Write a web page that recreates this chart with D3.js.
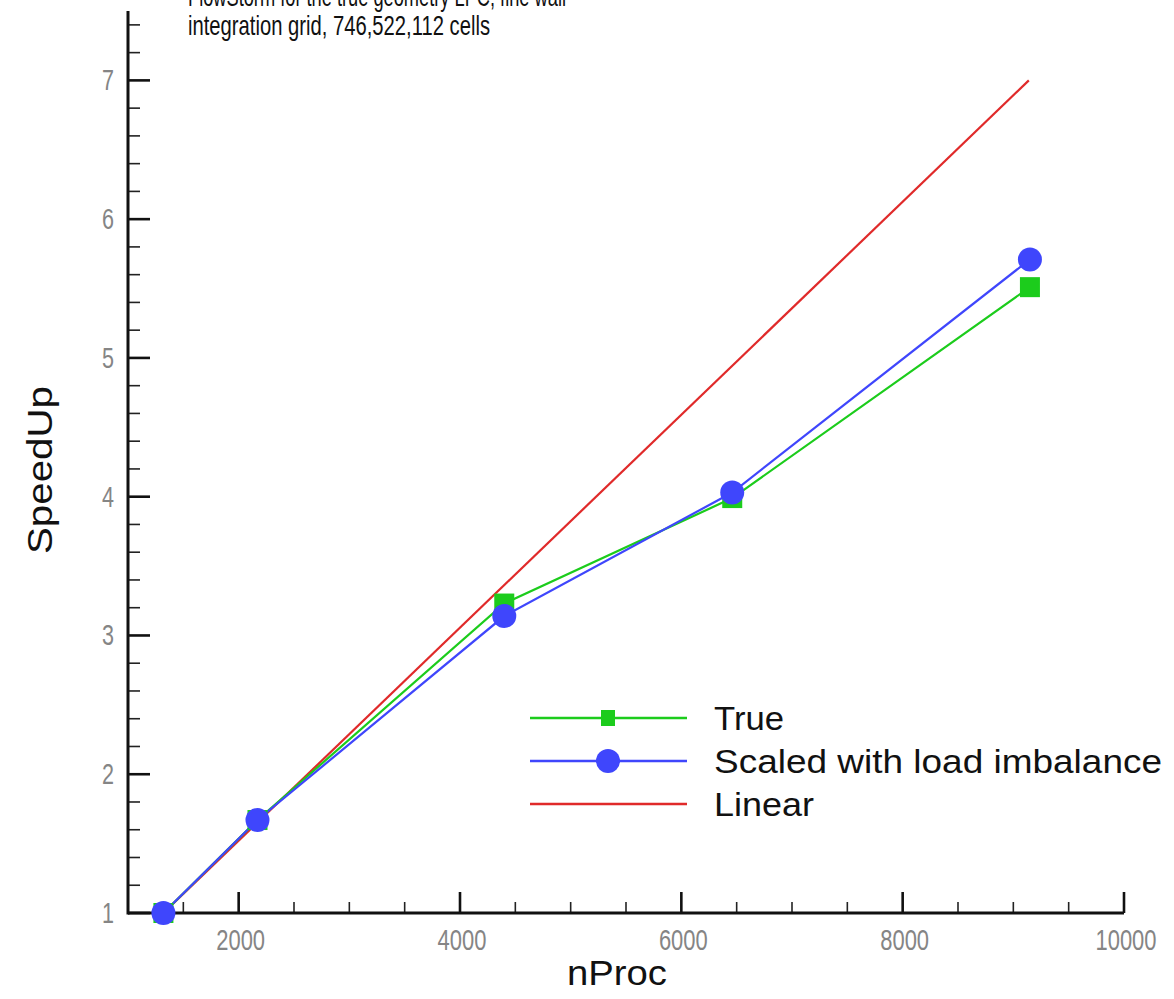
<!DOCTYPE html>
<html>
<head>
  <meta charset="utf-8">
  <script src="https://d3js.org/d3.v7.min.js"></script>
  <style>
    body { margin: 0; background: #fff; }
    text { font-family: "Liberation Sans", Arial, sans-serif; }
  </style>
</head>
<body>
<script>
// values
var nProc = [1320, 2170, 4400, 6460, 9150];
var speedTrue = [1, 1.67, 3.23, 3.99, 5.51];
var speedScaled = [1, 1.67, 3.14, 4.03, 5.71];
var linearX = [1320, 9140];
var linearY = [1, 7.0];
var xTicks = [2000, 4000, 6000, 8000, 10000];
var yTicks = [1, 2, 3, 4, 5, 6, 7];
var seriesNames = ["True", "Scaled with load imbalance", "Linear"];
var titleLines = ["FlowStorm for the true geometry LPC, fine wall",
                  "integration grid, 746,522,112 cells"];

var W = 1174, H = 999;
var svg = d3.select("body").append("svg")
    .attr("width", W).attr("height", H);

var x = d3.scaleLinear().domain([1000, 10000]).range([128, 1124]);
var y = d3.scaleLinear().domain([1, 7.5]).range([913, 11]);

var green = "#1ccc1c", blue = "#3f46fc", red = "#e02a2a";

// minor ticks
var xMinor = d3.range(1500, 10000, 500).filter(function (v) { return v % 2000 !== 0; });
var yMinor = d3.range(1.2, 7.5, 0.2).filter(function (v) { return Math.abs(v - Math.round(v)) > 0.01; });

var ax = svg.append("g").attr("class", "axes");
ax.selectAll(".xminor").data(xMinor).enter().append("line")
  .attr("x1", d => x(d)).attr("x2", d => x(d))
  .attr("y1", y(1)).attr("y2", y(1) - 11)
  .attr("stroke", "#222").attr("stroke-width", 1.6);
ax.selectAll(".xmajor").data(xTicks).enter().append("line")
  .attr("x1", d => x(d)).attr("x2", d => x(d))
  .attr("y1", y(1)).attr("y2", y(1) - 21)
  .attr("stroke", "#111").attr("stroke-width", 2.6);
ax.selectAll(".yminor").data(yMinor).enter().append("line")
  .attr("x1", x(1000)).attr("x2", x(1000) + 12)
  .attr("y1", d => y(d)).attr("y2", d => y(d))
  .attr("stroke", "#222").attr("stroke-width", 1.6);
ax.selectAll(".ymajor").data(yTicks).enter().append("line")
  .attr("x1", x(1000)).attr("x2", x(1000) + 22)
  .attr("y1", d => y(d)).attr("y2", d => y(d))
  .attr("stroke", "#111").attr("stroke-width", 2.6);
// axis lines
ax.append("line").attr("x1", x(1000)).attr("x2", x(10000))
  .attr("y1", y(1)).attr("y2", y(1)).attr("stroke", "#111").attr("stroke-width", 3);
ax.append("line").attr("x1", x(1000)).attr("x2", x(1000))
  .attr("y1", y(1) + 1.5).attr("y2", y(7.5)).attr("stroke", "#111").attr("stroke-width", 3);

// tick labels
ax.selectAll(".xlab").data(xTicks).enter().append("text")
  .attr("x", d => x(d) + 2).attr("y", 950)
  .attr("text-anchor", "middle")
  .attr("font-size", 30).attr("fill", "#858585")
  .attr("textLength", d => String(d).length * 12.2).attr("lengthAdjust", "spacingAndGlyphs")
  .text(d => d);
ax.selectAll(".ylab").data(yTicks).enter().append("text")
  .attr("x", 114).attr("y", d => y(d) + 10)
  .attr("text-anchor", "end")
  .attr("font-size", 29).attr("fill", "#858585")
  .attr("textLength", 12).attr("lengthAdjust", "spacingAndGlyphs")
  .text(d => d);

// axis titles
svg.append("text").attr("x", 617).attr("y", 985)
  .attr("text-anchor", "middle").attr("font-size", 35).attr("fill", "#111")
  .attr("textLength", 100).attr("lengthAdjust", "spacingAndGlyphs")
  .text("nProc");
svg.append("text").attr("transform", "translate(52,470) rotate(-90)")
  .attr("text-anchor", "middle").attr("font-size", 35).attr("fill", "#111")
  .attr("textLength", 168).attr("lengthAdjust", "spacingAndGlyphs")
  .text("SpeedUp");

// title (first line runs off the top, as in the original)
svg.selectAll(".title").data(titleLines).enter().append("text")
  .attr("x", 188).attr("y", (d, i) => 6 + i * 29)
  .attr("font-size", 28).attr("fill", "#111")
  .attr("textLength", (d, i) => i === 0 ? 378 : 302).attr("lengthAdjust", "spacingAndGlyphs")
  .text(d => d);

// lines
var line = d3.line().x(d => x(d[0])).y(d => y(d[1]));
var plot = svg.append("g");
plot.append("path").datum(d3.zip(linearX, linearY)).attr("d", line)
  .attr("fill", "none").attr("stroke", red).attr("stroke-width", 2.2);
plot.append("path").datum(d3.zip(nProc, speedTrue)).attr("d", line)
  .attr("fill", "none").attr("stroke", green).attr("stroke-width", 2.2);
plot.append("path").datum(d3.zip(nProc, speedScaled)).attr("d", line)
  .attr("fill", "none").attr("stroke", blue).attr("stroke-width", 2.2);
plot.selectAll(".sq").data(d3.zip(nProc, speedTrue)).enter().append("rect")
  .attr("x", d => x(d[0]) - 10).attr("y", d => y(d[1]) - 10)
  .attr("width", 20).attr("height", 20).attr("fill", green);
plot.selectAll(".ci").data(d3.zip(nProc, speedScaled)).enter().append("circle")
  .attr("cx", d => x(d[0])).attr("cy", d => y(d[1])).attr("r", 12)
  .attr("fill", blue);

// legend
var lg = svg.append("g");
var colors = [green, blue, red];
seriesNames.forEach(function (name, i) {
  var ly = 718 + i * 43;
  lg.append("line").attr("x1", 530).attr("x2", 687).attr("y1", ly).attr("y2", ly)
    .attr("stroke", colors[i]).attr("stroke-width", 2.6);
  if (i === 0) lg.append("rect").attr("x", 601).attr("y", ly - 8).attr("width", 14).attr("height", 16).attr("fill", green);
  if (i === 1) lg.append("circle").attr("cx", 608).attr("cy", ly).attr("r", 12).attr("fill", blue);
  lg.append("text").attr("x", 714).attr("y", ly + 12)
    .attr("font-size", 34).attr("fill", "#111")
    .attr("textLength", [70, 448, 100][i]).attr("lengthAdjust", "spacingAndGlyphs")
    .text(name);
});
</script>
</body>
</html>
